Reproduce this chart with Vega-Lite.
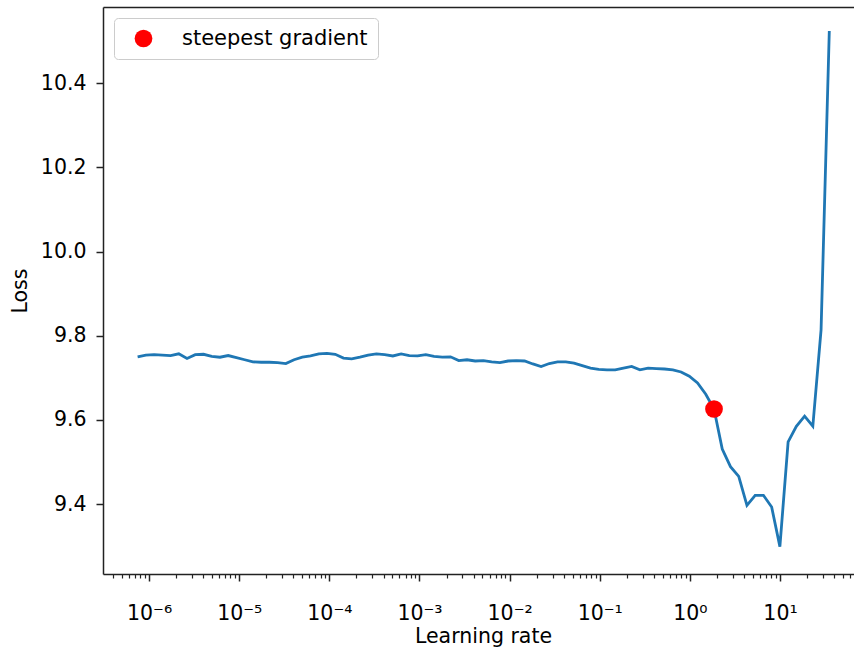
{
  "$schema": "https://vega.github.io/schema/vega-lite/v6.json",
  "width": 751,
  "height": 567,
  "autosize": {"type": "none"},
  "padding": {"left": 103, "top": 7, "right": 0, "bottom": 73},
  "background": "white",
  "config": {
    "view": {"stroke": null},
    "font": "DejaVu Sans",
    "axis": {
      "labelFont": "DejaVu Sans",
      "titleFont": "DejaVu Sans",
      "labelColor": "#000000",
      "titleColor": "#000000",
      "titleFontWeight": "normal",
      "grid": false,
      "domainColor": "#222222",
      "tickColor": "#222222",
      "domainWidth": 1.5,
      "tickWidth": 1.5
    }
  },
  "datasets": {
    "lr": [
      {"lr": 7.457e-7, "loss": 9.750},
      {"lr": 9.203e-7, "loss": 9.754},
      {"lr": 1.136e-6, "loss": 9.755},
      {"lr": 1.402e-6, "loss": 9.754},
      {"lr": 1.730e-6, "loss": 9.753},
      {"lr": 2.135e-6, "loss": 9.757},
      {"lr": 2.634e-6, "loss": 9.746},
      {"lr": 3.251e-6, "loss": 9.755},
      {"lr": 4.013e-6, "loss": 9.756},
      {"lr": 4.952e-6, "loss": 9.751},
      {"lr": 6.112e-6, "loss": 9.749},
      {"lr": 7.543e-6, "loss": 9.753},
      {"lr": 9.307e-6, "loss": 9.748},
      {"lr": 1.149e-5, "loss": 9.743},
      {"lr": 1.418e-5, "loss": 9.738},
      {"lr": 1.750e-5, "loss": 9.737},
      {"lr": 2.159e-5, "loss": 9.737},
      {"lr": 2.665e-5, "loss": 9.736},
      {"lr": 3.289e-5, "loss": 9.734},
      {"lr": 4.058e-5, "loss": 9.743},
      {"lr": 5.009e-5, "loss": 9.749},
      {"lr": 6.182e-5, "loss": 9.752},
      {"lr": 7.629e-5, "loss": 9.757},
      {"lr": 9.414e-5, "loss": 9.758},
      {"lr": 1.162e-4, "loss": 9.756},
      {"lr": 1.434e-4, "loss": 9.747},
      {"lr": 1.770e-4, "loss": 9.745},
      {"lr": 2.184e-4, "loss": 9.749},
      {"lr": 2.695e-4, "loss": 9.754},
      {"lr": 3.326e-4, "loss": 9.757},
      {"lr": 4.105e-4, "loss": 9.755},
      {"lr": 5.067e-4, "loss": 9.752},
      {"lr": 6.252e-4, "loss": 9.757},
      {"lr": 7.718e-4, "loss": 9.753},
      {"lr": 9.522e-4, "loss": 9.752},
      {"lr": 1.175e-3, "loss": 9.755},
      {"lr": 1.450e-3, "loss": 9.751},
      {"lr": 1.790e-3, "loss": 9.749},
      {"lr": 2.209e-3, "loss": 9.750},
      {"lr": 2.726e-3, "loss": 9.741},
      {"lr": 3.364e-3, "loss": 9.743},
      {"lr": 4.152e-3, "loss": 9.740},
      {"lr": 5.124e-3, "loss": 9.741},
      {"lr": 6.324e-3, "loss": 9.738},
      {"lr": 7.805e-3, "loss": 9.736},
      {"lr": 9.632e-3, "loss": 9.740},
      {"lr": 1.189e-2, "loss": 9.741},
      {"lr": 1.467e-2, "loss": 9.740},
      {"lr": 1.811e-2, "loss": 9.733},
      {"lr": 2.234e-2, "loss": 9.727},
      {"lr": 2.757e-2, "loss": 9.734},
      {"lr": 3.403e-2, "loss": 9.738},
      {"lr": 4.200e-2, "loss": 9.738},
      {"lr": 5.183e-2, "loss": 9.735},
      {"lr": 6.395e-2, "loss": 9.729},
      {"lr": 7.895e-2, "loss": 9.723},
      {"lr": 9.743e-2, "loss": 9.720},
      {"lr": 0.1202, "loss": 9.719},
      {"lr": 0.1484, "loss": 9.719},
      {"lr": 0.1831, "loss": 9.723},
      {"lr": 0.2260, "loss": 9.727},
      {"lr": 0.2789, "loss": 9.719},
      {"lr": 0.3441, "loss": 9.723},
      {"lr": 0.4248, "loss": 9.722},
      {"lr": 0.5242, "loss": 9.721},
      {"lr": 0.6470, "loss": 9.719},
      {"lr": 0.7986, "loss": 9.714},
      {"lr": 0.9854, "loss": 9.704},
      {"lr": 1.216, "loss": 9.688},
      {"lr": 1.501, "loss": 9.661},
      {"lr": 1.852, "loss": 9.626},
      {"lr": 2.286, "loss": 9.531},
      {"lr": 2.821, "loss": 9.489},
      {"lr": 3.482, "loss": 9.466},
      {"lr": 4.297, "loss": 9.397},
      {"lr": 5.304, "loss": 9.421},
      {"lr": 6.545, "loss": 9.421},
      {"lr": 8.078, "loss": 9.393},
      {"lr": 9.968, "loss": 9.299},
      {"lr": 12.30, "loss": 9.548},
      {"lr": 15.18, "loss": 9.585},
      {"lr": 18.74, "loss": 9.609},
      {"lr": 23.12, "loss": 9.585},
      {"lr": 28.54, "loss": 9.814},
      {"lr": 35.22, "loss": 10.524}
    ],
    "best": [
      {"lr": 1.852, "loss": 9.626, "label": "steepest gradient"}
    ]
  },
  "layer": [
    {
      "data": {"name": "lr"},
      "mark": {"type": "line", "color": "#1f77b4", "strokeWidth": 2.8},
      "encoding": {
        "x": {
          "field": "lr", "type": "quantitative",
          "scale": {"type": "log", "domain": [3.08e-7, 66.2], "nice": false},
          "axis": {
            "orient": "bottom",
            "values": [1e-6, 1e-5, 1e-4, 1e-3, 1e-2, 1e-1, 1, 10],
            "labelExpr": "['10⁻⁶','10⁻⁵','10⁻⁴','10⁻³','10⁻²','10⁻¹','10⁰','10¹'][round(log(datum.value)/LN10)+6]",
            "tickSize": 7,
            "labelFontSize": 20.5,
            "labelBaseline": "alphabetic",
            "labelPadding": 38,
            "labelFlush": false,
            "labelOverlap": false,
            "title": "Learning rate",
            "titleFontSize": 20.5,
            "titleX": 380,
            "titleY": 68,
            "titleAlign": "center",
            "titleAnchor": null,
            "titleBaseline": "alphabetic"
          }
        },
        "y": {
          "field": "loss", "type": "quantitative",
          "scale": {"domain": [9.234, 10.581], "nice": false, "zero": false},
          "axis": {
            "values": [9.4, 9.6, 9.8, 10.0, 10.2, 10.4],
            "format": ".1f",
            "tickSize": 7,
            "labelPadding": 10,
            "labelFontSize": 20.5,
            "labelBaseline": "middle",
            "labelFlush": false,
            "labelOverlap": false,
            "title": "Loss",
            "titleFontSize": 20.5,
            "titleX": -77,
            "titleY": 283.5,
            "titleAngle": -90,
            "titleAlign": "center",
            "titleAnchor": null,
            "titleBaseline": "alphabetic"
          }
        }
      }
    },
    {
      "data": {"name": "lr"},
      "mark": {"type": "line", "opacity": 0},
      "encoding": {
        "x": {
          "field": "lr", "type": "quantitative",
          "scale": {"type": "log", "domain": [3.08e-7, 66.2], "nice": false},
          "axis": {
            "orient": "bottom",
            "values": [4e-7, 5e-7, 6e-7, 7e-7, 8e-7, 9e-7,
                       2e-6, 3e-6, 4e-6, 5e-6, 6e-6, 7e-6, 8e-6, 9e-6,
                       2e-5, 3e-5, 4e-5, 5e-5, 6e-5, 7e-5, 8e-5, 9e-5,
                       2e-4, 3e-4, 4e-4, 5e-4, 6e-4, 7e-4, 8e-4, 9e-4,
                       2e-3, 3e-3, 4e-3, 5e-3, 6e-3, 7e-3, 8e-3, 9e-3,
                       2e-2, 3e-2, 4e-2, 5e-2, 6e-2, 7e-2, 8e-2, 9e-2,
                       0.2, 0.3, 0.4, 0.5, 0.6, 0.7, 0.8, 0.9,
                       2, 3, 4, 5, 6, 7, 8, 9,
                       20, 30, 40, 50, 60],
            "tickSize": 4,
            "tickWidth": 1.2,
            "labels": false,
            "domain": false,
            "title": null
          }
        },
        "y": {"field": "loss", "type": "quantitative", "axis": null}
      }
    },
    {
      "data": {"name": "lr"},
      "mark": {"type": "line", "opacity": 0},
      "encoding": {
        "x": {
          "field": "lr", "type": "quantitative",
          "scale": {"type": "log", "domain": [3.08e-7, 66.2], "nice": false},
          "axis": {"orient": "top", "ticks": false, "labels": false, "domain": true, "title": null}
        },
        "y": {"field": "loss", "type": "quantitative", "axis": null}
      }
    },
    {
      "data": {"name": "best"},
      "mark": {"type": "point", "filled": true, "size": 314, "opacity": 1, "shape": "circle"},
      "encoding": {
        "x": {"field": "lr", "type": "quantitative", "axis": null},
        "y": {"field": "loss", "type": "quantitative", "axis": null},
        "color": {
          "field": "label", "type": "nominal",
          "scale": {"range": ["#ff0000"]},
          "legend": {
            "title": null,
            "orient": "none",
            "legendX": 11,
            "legendY": 11,
            "padding": 10,
            "strokeColor": "#cccccc",
            "cornerRadius": 4,
            "fillColor": "#ffffff",
            "symbolType": "circle",
            "symbolSize": 314,
            "symbolStrokeWidth": 0,
            "symbolOffset": 9,
            "labelOffset": 28,
            "labelLimit": 400,
            "labelFontSize": 21,
            "labelFont": "DejaVu Sans",
            "labelColor": "#000000"
          }
        }
      }
    }
  ],
  "resolve": {"axis": {"x": "independent", "y": "independent"}}
}
